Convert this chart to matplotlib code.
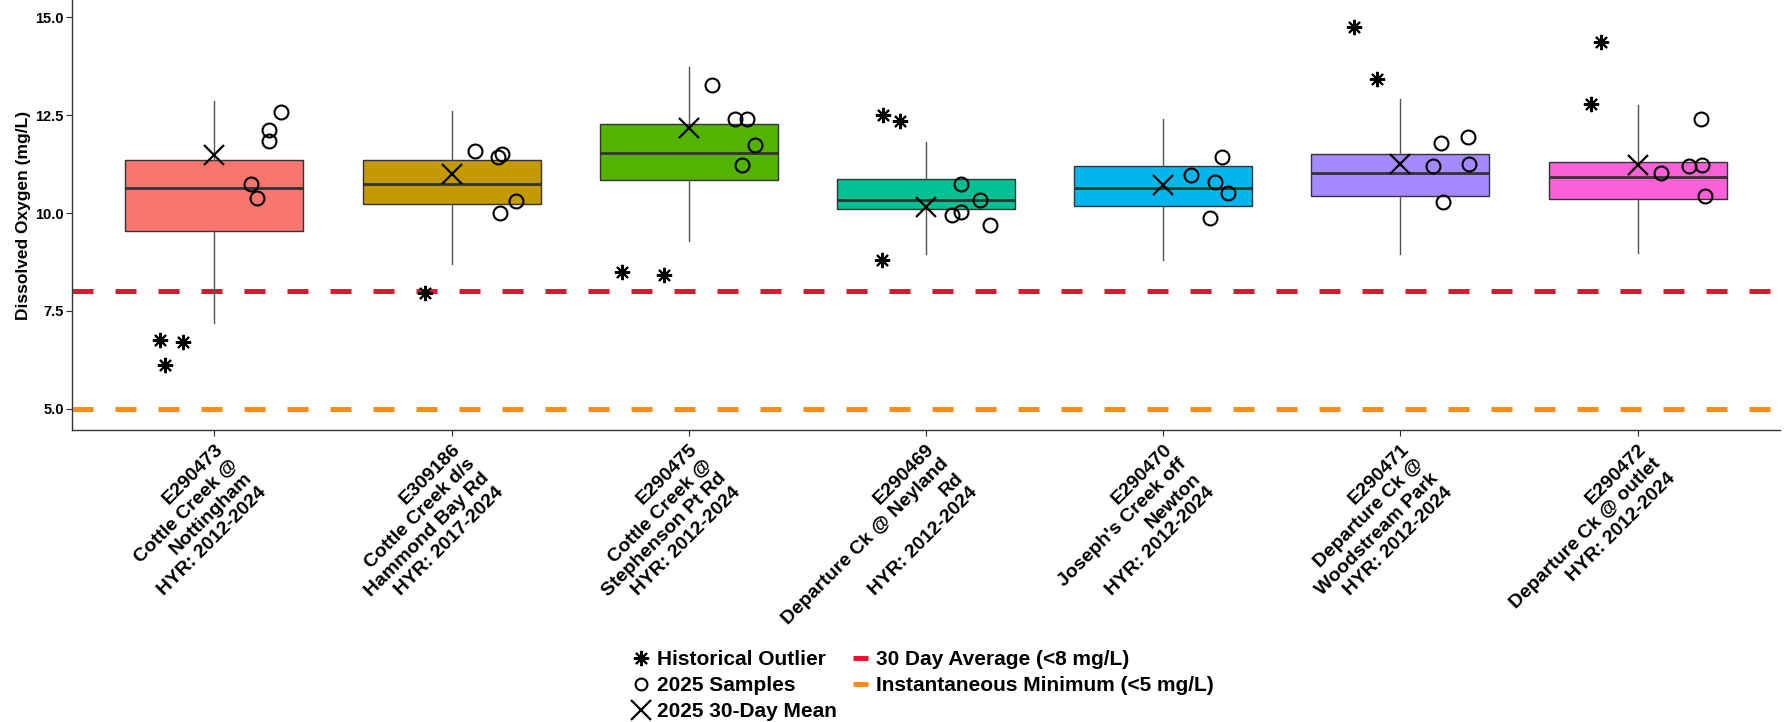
import matplotlib
matplotlib.use("Agg")
import matplotlib.pyplot as plt
from matplotlib.lines import Line2D

plt.rcParams['font.family'] = ['Liberation Sans', 'DejaVu Sans']
plt.rcParams['font.weight'] = 'bold'

sites = [
    "E290473\nCottle Creek @\nNottingham\nHYR: 2012-2024",
    "E309186\nCottle Creek d/s\nHammond Bay Rd\nHYR: 2017-2024",
    "E290475\nCottle Creek @\nStephenson Pt Rd\nHYR: 2012-2024",
    "E290469\nDeparture Ck @ Neyland\nRd\nHYR: 2012-2024",
    "E290470\nJoseph's Creek off\nNewton\nHYR: 2012-2024",
    "E290471\nDeparture Ck @\nWoodstream Park\nHYR: 2012-2024",
    "E290472\nDeparture Ck @ outlet\nHYR: 2012-2024",
]
box_colors = ["#F8766D", "#C49A00", "#53B400", "#00C094", "#00B6EB", "#A58AFF", "#FB61D7"]

q1 = [9.53, 10.22, 10.85, 10.09, 10.17, 10.43, 10.36]
median = [10.65, 10.74, 11.52, 10.34, 10.64, 11.01, 10.91]
q3 = [11.35, 11.35, 12.26, 10.87, 11.20, 11.50, 11.31]
whisker_low = [7.19, 8.71, 9.29, 8.95, 8.81, 8.95, 8.99]
whisker_high = [12.87, 12.60, 13.72, 11.82, 12.41, 12.91, 12.76]
mean_30day = [11.48, 10.99, 12.17, 10.15, 10.72, 11.26, 11.22]

outliers = [[6.76, 6.71, 6.12], [7.95], [8.50, 8.43], [12.49, 12.34, 8.80],
            [], [14.75, 13.41], [14.37, 12.79]]
samples_2025 = [
    [10.74, 10.38, 11.84, 12.11, 12.57],
    [11.58, 11.43, 11.51, 10.30, 10.00],
    [13.27, 12.41, 12.41, 11.73, 11.22],
    [10.74, 10.32, 10.02, 9.95, 9.70],
    [10.97, 11.44, 10.78, 10.50, 9.88],
    [11.79, 11.94, 11.19, 11.26, 10.27],
    [12.41, 11.03, 11.19, 11.22, 10.44],
]
guideline_30day = 8.0
guideline_instant = 5.0

# horizontal jitter (layout, in category units)
outlier_jitter = [[-0.23, -0.13, -0.21], [-0.113], [-0.282, -0.103], [-0.18, -0.108, -0.184],
                  [], [-0.197, -0.10], [-0.154, -0.197]]
sample_jitter = [
    [0.156, 0.18, 0.23, 0.23, 0.28],
    [0.097, 0.197, 0.213, 0.27, 0.205],
    [0.097, 0.194, 0.247, 0.279, 0.223],
    [0.148, 0.229, 0.148, 0.11, 0.269],
    [0.115, 0.249, 0.22, 0.272, 0.199],
    [0.172, 0.283, 0.138, 0.291, 0.18],
    [0.267, 0.10, 0.218, 0.27, 0.283],
]

W, H = 1792, 722
fig = plt.figure(figsize=(W / 100, H / 100), dpi=100)
ax = fig.add_axes([72 / W, 1 - 430 / H, (1780 - 72) / W, 430 / H])

positions = list(range(1, len(sites) + 1))
stats = []
for i in range(len(sites)):
    stats.append(dict(med=median[i], q1=q1[i], q3=q3[i],
                      whislo=whisker_low[i], whishi=whisker_high[i], fliers=[]))

bp = ax.bxp(stats, positions=positions, widths=0.75, patch_artist=True,
            showcaps=False, showfliers=False,
            boxprops=dict(edgecolor='#333333', linewidth=1.0),
            medianprops=dict(color='#333333', linewidth=2.0),
            whiskerprops=dict(color='#555555', linewidth=1.0), zorder=2)
for patch, c in zip(bp['boxes'], box_colors):
    patch.set_facecolor(c)

dash = (4.2, 4.4)
ax.axhline(guideline_30day, color='#E8132E', lw=3.6, linestyle=(0, dash), zorder=1)
ax.axhline(guideline_instant, color='#FF8C1A', lw=3.6, linestyle=(0, dash), zorder=1)

for i, p in enumerate(positions):
    ox = [p + j for j in outlier_jitter[i]]
    ax.plot(ox, outliers[i], linestyle='none', marker=(8, 2, 0), ms=11,
            mew=1.5, color='black', zorder=4)
    sx = [p + j for j in sample_jitter[i]]
    ax.plot(sx, samples_2025[i], linestyle='none', marker='o', ms=10,
            mfc='none', mec='black', mew=1.5, zorder=4)
ax.plot(positions, mean_30day, linestyle='none', marker='x', ms=14, mew=1.6,
        color='black', zorder=5)

ax.set_xlim(0.4, 7.6)
ax.set_ylim(4.464, 15.434)
ax.set_yticks([5.0, 7.5, 10.0, 12.5, 15.0])
ax.set_yticklabels(["5.0", "7.5", "10.0", "12.5", "15.0"], fontsize=10.5, fontweight='bold')
ax.set_xticks(positions)
ax.set_xticklabels(sites, rotation=45, ha='right', va='top', rotation_mode='anchor',
                   multialignment='right', fontsize=14, fontweight='bold',
                   linespacing=1.25)
ax.tick_params(axis='x', length=4, pad=4, color='#333333')
ax.tick_params(axis='y', length=4, pad=2, color='#333333')
for s in ['top', 'right']:
    ax.spines[s].set_visible(False)
for s in ['left', 'bottom']:
    ax.spines[s].set_color('#333333')
    ax.spines[s].set_linewidth(1.0)
ax.set_ylabel("Dissolved Oxygen (mg/L)", fontsize=12.5, fontweight='bold', labelpad=3)

handles = [
    Line2D([], [], linestyle='none', marker=(8, 2, 0), ms=11, mew=1.5, color='black'),
    Line2D([], [], linestyle='none', marker='o', ms=8.5, mfc='none', mec='black', mew=1.5),
    Line2D([], [], linestyle='none', marker='x', ms=14, mew=1.6, color='black'),
    Line2D([], [], color='#E8132E', lw=3.6, solid_capstyle='butt'),
    Line2D([], [], color='#FF8C1A', lw=3.6, solid_capstyle='butt'),
]
labels = ["Historical Outlier", "2025 Samples", "2025 30-Day Mean",
          "30 Day Average (<8 mg/L)", "Instantaneous Minimum (<5 mg/L)"]
fig.legend(handles, labels, ncol=2, loc='upper left', bbox_to_anchor=(634 / W, 1 - 650 / H),
           frameon=False, prop=dict(size=15, weight='bold'), handlelength=0.7,
           handletextpad=0.4, columnspacing=0.8, labelspacing=0.34, borderpad=0,
           borderaxespad=0)

fig.savefig("out.png", dpi=100)
